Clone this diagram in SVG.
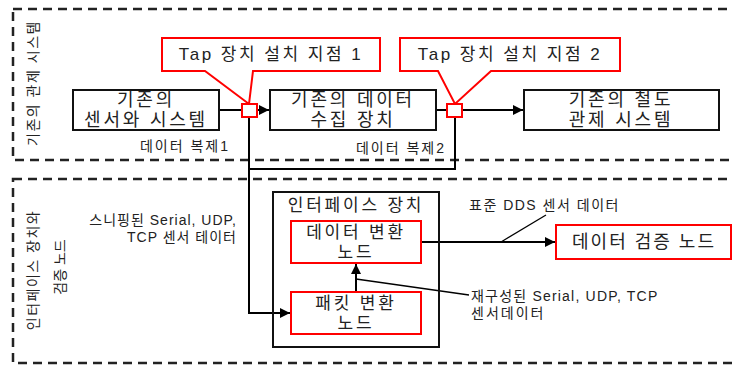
<svg xmlns="http://www.w3.org/2000/svg" width="733" height="368" viewBox="0 0 733 368">
<defs>
<marker id="ah" viewBox="0 0 10 10" refX="10" refY="5" markerWidth="5" markerHeight="5" orient="auto" markerUnits="strokeWidth">
<path d="M0,0 L10,5 L0,10 z" fill="#000"/>
</marker>
<style>
text{font-family:"Liberation Sans","Noto Sans CJK KR",sans-serif;fill:#222;dominant-baseline:central}
.dash{fill:none;stroke:#222;stroke-width:2.5;stroke-dasharray:9 6}
.box{fill:#fff;stroke:#111;stroke-width:2}
.red{fill:#fff;stroke:#f00;stroke-width:2}
.ln{fill:none;stroke:#000;stroke-width:2}
.thin{fill:none;stroke:#000;stroke-width:1.3}
.big{font-size:18px;letter-spacing:2.8px;text-anchor:middle}
.mid{font-size:17px;letter-spacing:2.8px;text-anchor:middle}
.sm{font-size:14px;letter-spacing:1px}
.vt{font-size:14px;text-anchor:middle;letter-spacing:1.5px}
</style>
</defs>
<g id="section-existing">
<rect class="dash" x="13" y="9" width="740" height="151"/>
<text class="vt" transform="translate(33,83) rotate(-90)">기존의 관제 시스템</text>
</g>
<g id="section-interface">
<rect class="dash" x="13" y="179" width="740" height="184"/>
<text class="vt" transform="translate(33,270) rotate(-90)">인터페이스 장치와</text>
<text class="vt" transform="translate(60,267) rotate(-90)" style="letter-spacing:0">검증 노드</text>
</g>
<g id="connectors">
<line class="ln" x1="219" y1="110" x2="242" y2="110"/>
<line class="ln" x1="257" y1="110" x2="269" y2="110" marker-end="url(#ah)"/>
<line class="ln" x1="436" y1="110" x2="446" y2="110"/>
<line class="ln" x1="462" y1="110" x2="523" y2="110" marker-end="url(#ah)"/>
<polyline class="ln" points="249,117 249,313 290,313" marker-end="url(#ah)"/>
<polyline class="ln" points="455,117 455,169 249,169"/>
<line class="ln" x1="356" y1="292" x2="356" y2="264" marker-end="url(#ah)"/>
<line class="ln" x1="421" y1="242" x2="555" y2="242" marker-end="url(#ah)"/>
<line class="thin" x1="501" y1="242" x2="546" y2="215"/>
<line class="thin" x1="356" y1="279" x2="469" y2="295"/>
</g>
<g id="node-sensor">
<rect class="box" x="73" y="90" width="146" height="40"/>
<text class="big" x="146" y="100">기존의</text>
<text class="big" x="146" y="120">센서와 시스템</text>
</g>
<g id="node-collector">
<rect class="box" x="270" y="90" width="166" height="40"/>
<text class="big" x="353" y="100">기존의 데이터</text>
<text class="big" x="353" y="120">수집 장치</text>
</g>
<g id="node-control">
<rect class="box" x="524" y="90" width="195" height="40"/>
<text class="big" x="621" y="100">기존의 철도</text>
<text class="big" x="621" y="120">관제 시스템</text>
</g>
<g id="callout-tap1">
<polygon class="red" points="162,38 380,38 380,71 253,71 249,104 205,71 162,71"/>
<text x="271" y="54" style="font-size:17px;letter-spacing:2.5px;text-anchor:middle">Tap 장치 설치 지점 1</text>
</g>
<g id="callout-tap2">
<polygon class="red" points="400,38 620,38 620,71 491,71 455,104 438,71 400,71"/>
<text x="510" y="54" style="font-size:17px;letter-spacing:2.5px;text-anchor:middle">Tap 장치 설치 지점 2</text>
</g>
<g id="tap1">
<rect class="red" x="242" y="104" width="15" height="13"/>
</g>
<g id="tap2">
<rect class="red" x="447" y="104" width="15" height="13"/>
</g>
<g id="labels">
<text class="sm" x="185" y="146" style="text-anchor:middle;letter-spacing:2px">데이터 복제1</text>
<text class="sm" x="401" y="148" style="text-anchor:middle;letter-spacing:2px">데이터 복제2</text>
<text class="sm" x="237" y="220" style="text-anchor:end">스니핑된 Serial, UDP,</text>
<text class="sm" x="237" y="237" style="text-anchor:end">TCP 센서 테이터</text>
<text class="sm" x="469" y="205" style="letter-spacing:1.5px">표준  DDS 센서 데이터</text>
<text class="sm" x="471" y="296" style="letter-spacing:1.2px">재구성된 Serial, UDP, TCP</text>
<text class="sm" x="471" y="313" style="letter-spacing:2px">센서데이터</text>
</g>
<g id="node-interface">
<rect class="box" x="273" y="192" width="166" height="155" style="fill:none"/>
<text class="mid" x="356" y="205">인터페이스 장치</text>
</g>
<g id="node-dataconv">
<rect class="red" x="291" y="221" width="130" height="42"/>
<text class="mid" x="356" y="232">데이터 변환</text>
<text class="mid" x="356" y="252">노드</text>
</g>
<g id="node-packetconv">
<rect class="red" x="291" y="292" width="130" height="42"/>
<text class="mid" x="356" y="303">패킷 변환</text>
<text class="mid" x="356" y="323">노드</text>
</g>
<g id="node-verify">
<rect class="red" x="556" y="225" width="175" height="34"/>
<text x="644" y="242" style="font-size:18px;letter-spacing:2px;text-anchor:middle">데이터 검증 노드</text>
</g>
</svg>
